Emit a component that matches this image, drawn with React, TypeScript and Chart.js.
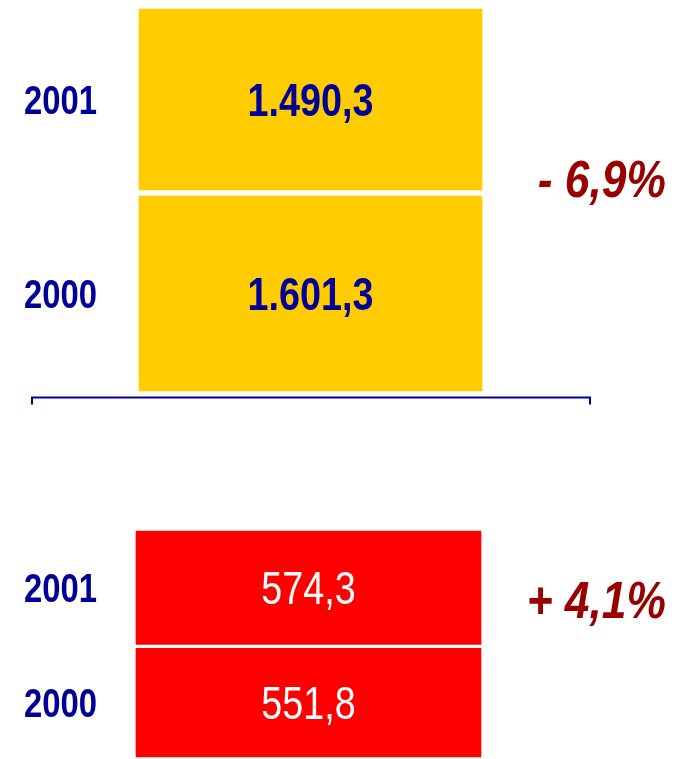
import React, { useEffect, useRef } from "react";
import { Chart, registerables } from "chart.js";

Chart.register(...registerables);

// ---- data ----
const years = ["2001", "2000"];
const upperValues = [1490.3, 1601.3]; // yellow group
const lowerValues = [574.3, 551.8]; // red group

const YELLOW = "#FFCC00";
const RED = "#FF0000";
const BLUE = "#000099";
const DARK_RED = "#990000";
const FONT = '"Liberation Sans", Arial, sans-serif';

function fmt(v: number): string {
  const [i, d] = v.toFixed(1).split(".");
  return i.replace(/\B(?=(\d{3})+(?!\d))/g, ".") + "," + d;
}

function pctText(values: number[]): string {
  const p = ((values[0] - values[1]) / values[1]) * 100;
  const s = Math.abs(p).toFixed(1).replace(".", ",");
  return (p < 0 ? "- " : "+ ") + s + "%";
}

function drawText(
  ctx: CanvasRenderingContext2D,
  text: string,
  x: number,
  cy: number,
  size: number,
  weight: string,
  style: string,
  color: string,
  align: CanvasTextAlign,
  sx: number
) {
  ctx.save();
  ctx.font = `${style} ${weight} ${size}px ${FONT}`;
  ctx.fillStyle = color;
  ctx.textAlign = align;
  ctx.textBaseline = "alphabetic";
  ctx.translate(x, cy + (size * 0.716) / 2);
  ctx.scale(sx, 1);
  ctx.fillText(text, 0, 0);
  ctx.restore();
}

type GroupOpts = {
  values: number[];
  color: string;
  valueColor: string;
  valueWeight: string;
  pctCenterY: number;
  bracket: boolean;
  padding: { left: number; right: number; top: number; bottom: number };
  border: number;
};

function makeConfig(o: GroupOpts): any {
  const order = years.map((y, i) => ({ y, v: o.values[i] })).reverse(); // 2000 at bottom
  const total = o.values.reduce((a, b) => a + b, 0);
  const labelsPlugin = {
    id: "blockLabels",
    afterDatasetsDraw(chart: any) {
      const ctx = chart.ctx as CanvasRenderingContext2D;
      chart.data.datasets.forEach((ds: any, i: number) => {
        const el = chart.getDatasetMeta(i).data[0] as any;
        const top = Math.min(el.y, el.base);
        const bottom = Math.max(el.y, el.base);
        const cy = (top + bottom) / 2;
        drawText(ctx, ds.label, 97, cy, 40, "bold", "normal", BLUE, "right", 0.82);
        drawText(ctx, fmt(ds.data[0]), el.x, cy, 46, o.valueWeight, "normal", o.valueColor, "center", 0.82);
      });
      drawText(ctx, pctText(o.values), 666, o.pctCenterY, 51, "bold", "italic", DARK_RED, "right", 0.87);
      if (o.bracket) {
        const y = chart.chartArea.bottom + 3.5;
        ctx.save();
        ctx.strokeStyle = BLUE;
        ctx.lineWidth = 2;
        ctx.beginPath();
        ctx.moveTo(32, y + 7);
        ctx.lineTo(32, y);
        ctx.lineTo(590, y);
        ctx.lineTo(590, y + 7);
        ctx.stroke();
        ctx.restore();
      }
    },
  };
  return {
    type: "bar",
    data: {
      labels: [""],
      datasets: order.map((r) => ({
        label: r.y,
        data: [r.v],
        backgroundColor: o.color,
        borderColor: "#FFFFFF",
        borderWidth: o.border,
        borderSkipped: false,
        barPercentage: 1,
        categoryPercentage: 1,
        stack: "s",
      })),
    },
    options: {
      responsive: false,
      animation: false,
      devicePixelRatio: 1,
      layout: { padding: o.padding },
      scales: {
        x: { display: false, stacked: true },
        y: { display: false, stacked: true, min: 0, max: total },
      },
      plugins: { legend: { display: false }, tooltip: { enabled: false } },
    },
    plugins: [labelsPlugin],
  };
}

function ChartCanvas({ height, opts }: { height: number; opts: GroupOpts }) {
  const ref = useRef<HTMLCanvasElement | null>(null);
  useEffect(() => {
    if (!ref.current) return;
    const chart = new Chart(ref.current, makeConfig(opts));
    return () => chart.destroy();
  }, []);
  return <canvas ref={ref} width={684} height={height} style={{ display: "block" }} />;
}

export default function App() {
  return (
    <div style={{ position: "absolute", left: 0, top: 0, width: 684, height: 759, background: "#fff" }}>
      <ChartCanvas
        height={420}
        opts={{
          values: upperValues,
          color: YELLOW,
          valueColor: BLUE,
          valueWeight: "bold",
          pctCenterY: 179,
          bracket: true,
          padding: { left: 136, right: 199, top: 6, bottom: 26 },
          border: 3,
        }}
      />
      <ChartCanvas
        height={339}
        opts={{
          values: lowerValues,
          color: RED,
          valueColor: "#FFFFFF",
          valueWeight: "normal",
          pctCenterY: 180,
          bracket: false,
          padding: { left: 134, right: 201, top: 109, bottom: 0 },
          border: 2,
        }}
      />
    </div>
  );
}
